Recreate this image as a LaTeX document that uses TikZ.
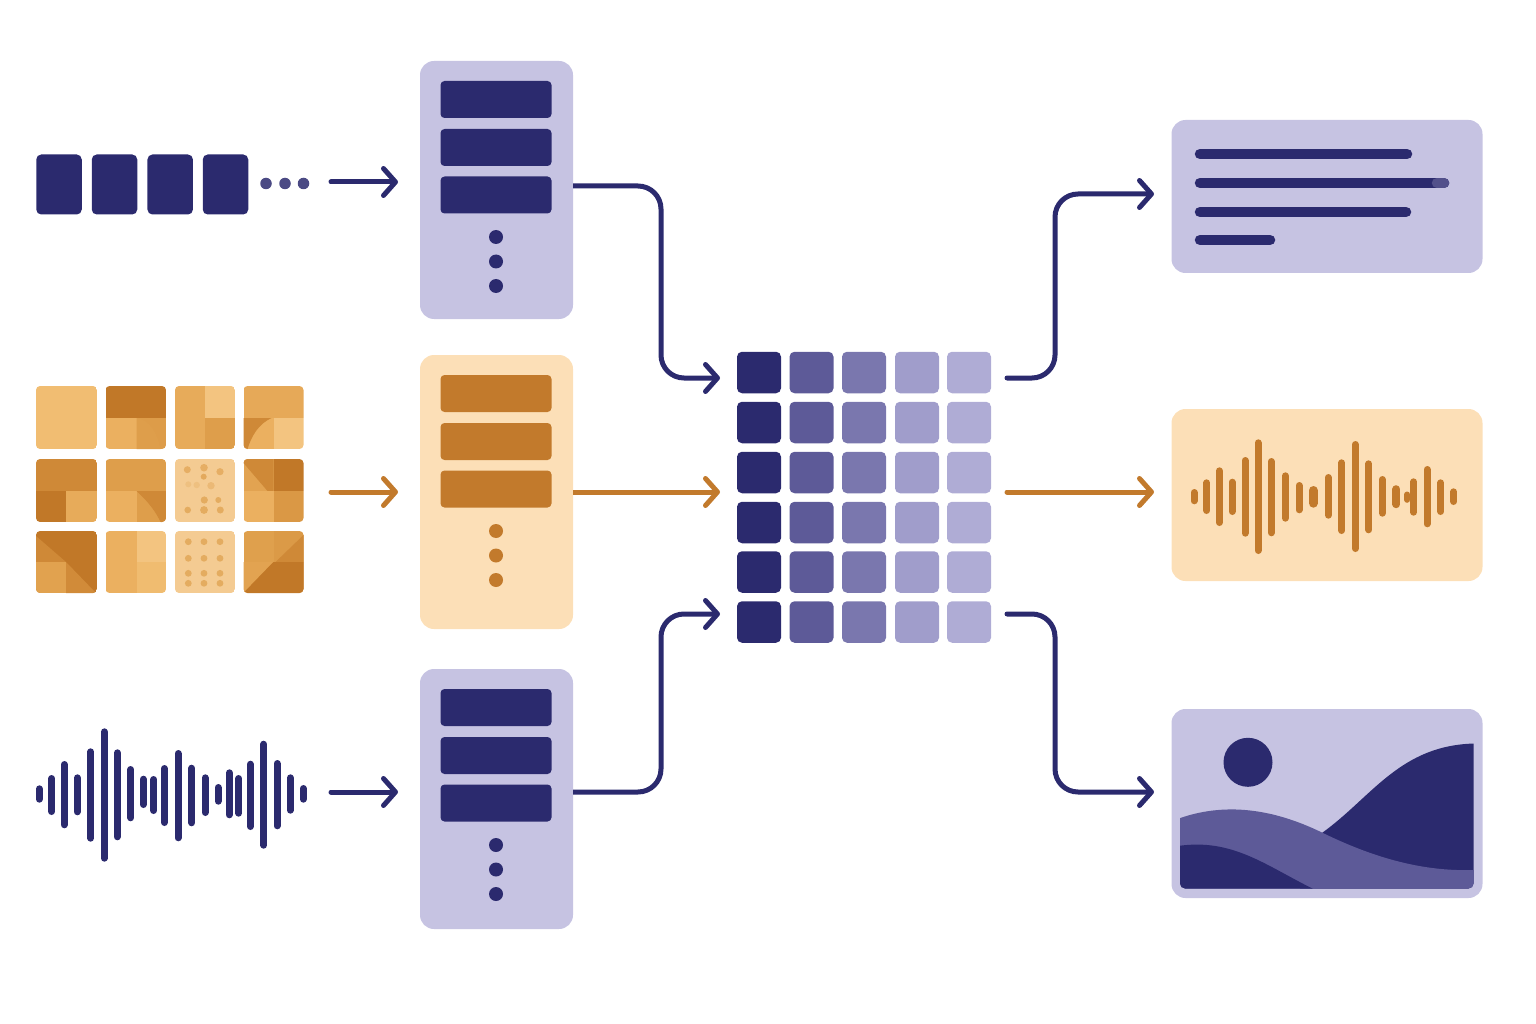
\documentclass[tikz,border=0pt]{standalone}
\usetikzlibrary{arrows.meta,calc}
\definecolor{navy}{HTML}{2B2A6E}
\definecolor{lilac}{HTML}{C6C3E2}
\definecolor{peach}{HTML}{FCDFB7}
\definecolor{amber}{HTML}{C27A2C}
\definecolor{hazeA}{HTML}{5D5A98}
\definecolor{hazeB}{HTML}{7A77AE}
\definecolor{hazeC}{HTML}{A09DCB}
\definecolor{hazeD}{HTML}{AFACD5}
\definecolor{tanA}{HTML}{F1BD72}
\definecolor{tanB}{HTML}{EBB060}
\definecolor{tanC}{HTML}{DE9E4B}
\definecolor{tanD}{HTML}{CF8937}
\definecolor{tanE}{HTML}{C17828}
\definecolor{tanF}{HTML}{F4CB92}
\tikzset{
	block/.style={rounded corners=#1, inner sep=0pt, outer sep=0pt, draw=none},
	block/.default=4pt,
	flow/.style={line width=5pt, draw=#1, line cap=round, rounded corners=23pt,
		-{Straight Barb[length=12pt,width=27pt,line width=5pt,round]}},
	flow/.default=navy,
	wave/.style={line width=7pt, line cap=round, draw=#1},
	textline/.style={line width=10.5pt, draw=navy, line cap=round},
	pip/.style={circle, inner sep=0pt, outer sep=0pt, minimum size=14pt, fill=#1}
}
\begin{document}
\begin{tikzpicture}[x=1pt,y=-1pt]
	\useasboundingbox (0,0) rectangle (1536,1024);
	% Eingabe: Tokenfolge
	\foreach \x/\n in {59/1,114.5/2,170.2/3,225.5/4}
		\node[block=5pt, fill=navy, minimum width=45.5pt, minimum height=60pt] (token\n) at (\x,184.5) {};
	\foreach \x/\n in {266/1,285/2,303.5/3}
		\node[pip=navy!85, minimum size=11.5pt] (more\n) at (\x,183.5) {};
	% Eingabe: Bildkacheln
	\begin{scope}[shift={(36,386)}]
		\clip[rounded corners=4pt] (0,0) rectangle (61,63);
		\fill[tanA] (0,0) rectangle (61,63);
	\end{scope}
	\begin{scope}[shift={(105.5,386)}]
		\clip[rounded corners=4pt] (0,0) rectangle (60.5,63);
		\fill[tanE] (0,0) rectangle (60.5,32);
		\fill[tanB] (0,32) rectangle (31,63);
		\fill[tanC!90!tanD] (31,32) rectangle (60.5,63);
		\fill[tanC] (31,32) .. controls (45,34) and (52,48) .. (55,63) -- (31,63) -- cycle;
	\end{scope}
	\begin{scope}[shift={(175,386)}]
		\clip[rounded corners=4pt] (0,0) rectangle (60,63);
		\fill[tanB!70!tanC] (0,0) rectangle (30,63);
		\fill[tanA!90!white] (30,0) rectangle (60,32);
		\fill[tanC] (30,32) rectangle (60,63);
	\end{scope}
	\begin{scope}[shift={(243.5,386)}]
		\clip[rounded corners=4pt] (0,0) rectangle (60,63);
		\fill[tanB!60!tanC] (0,0) rectangle (60,32);
		\fill[tanA!90!white] (30,32) rectangle (60,63);
		\fill[tanB] (0,32) rectangle (30,63);
		\fill[tanD] (0,32) -- (28,32) .. controls (15,38) and (8,50) .. (4,63) -- (0,63) -- cycle;
	\end{scope}
	\begin{scope}[shift={(36,459)}]
		\clip[rounded corners=4pt] (0,0) rectangle (61,63);
		\fill[tanD] (0,0) rectangle (61,32);
		\fill[tanE] (0,32) rectangle (30,63);
		\fill[tanB!70!tanC] (30,32) rectangle (61,63);
	\end{scope}
	\begin{scope}[shift={(105.5,459)}]
		\clip[rounded corners=4pt] (0,0) rectangle (60.5,63);
		\fill[tanC] (0,0) rectangle (60.5,32);
		\fill[tanB] (0,32) rectangle (31,63);
		\fill[tanC] (31,32) rectangle (60.5,63);
		\fill[tanD] (31,32) -- (60.5,32) -- (60.5,63) -- (55,63) .. controls (50,52) and (42,42) .. (31,32) -- cycle;
	\end{scope}
	\begin{scope}[shift={(175,459)}]
		\clip[rounded corners=4pt] (0,0) rectangle (60,63);
		\fill[tanF] (0,0) rectangle (60,63);
	\end{scope}
	\foreach \x/\y/\r/\c in {187.3/469.7/3.5/tanC!65!tanF,204/467.7/3.8/tanC!65!tanF,220/471.7/3.6/tanC!65!tanF,
		203.7/476.7/3/tanC!75!tanF,188.3/484.3/3/tanC!25!tanF,196.7/485/3.2/tanC!25!tanF,211/485.7/3.7/tanC!40!tanF,
		204.3/500/3.6/tanC!70!tanF,218.3/500/3/tanC!70!tanF,187.7/510/3.3/tanC!70!tanF,204/510/3.9/tanC!70!tanF,220.3/510/3.5/tanC!70!tanF}
		\fill[\c] (\x,\y) circle (\r);
	\begin{scope}[shift={(243.5,459)}]
		\clip[rounded corners=4pt] (0,0) rectangle (60,63);
		\fill[tanC!70!tanB] (0,0) rectangle (30,32);
		\fill[tanD] (0,0) -- (30,0) -- (30,32) -- (24,32) -- (0,4) -- cycle;
		\fill[tanE] (30,0) rectangle (60,32);
		\fill[tanB] (0,32) rectangle (30,63);
		\fill[tanC!70!tanD] (30,32) rectangle (60,63);
	\end{scope}
	\begin{scope}[shift={(36,531)}]
		\clip[rounded corners=4pt] (0,0) rectangle (61,62);
		\fill[tanE] (0,0) rectangle (61,62);
		\fill[tanD] (0,5) -- (0,31) -- (30,31) -- cycle;
		\fill[tanC!80!tanB] (0,31) rectangle (30,62);
		\fill[tanD!90!tanC] (30,31) -- (30,62) -- (60,62) -- cycle;
	\end{scope}
	\begin{scope}[shift={(105.5,531)}]
		\clip[rounded corners=4pt] (0,0) rectangle (60.5,62);
		\fill[tanB] (0,0) rectangle (31,62);
		\fill[tanA!90!white] (31,0) rectangle (60.5,31);
		\fill[tanA!90!tanB] (31,31) rectangle (60.5,62);
	\end{scope}
	\begin{scope}[shift={(175,531)}]
		\clip[rounded corners=4pt] (0,0) rectangle (60,62);
		\fill[tanF] (0,0) rectangle (60,62);
	\end{scope}
	\foreach \y in {541.7,558.3,573.3,583.3}
		\foreach \x in {188.3,204,220}
			\fill[tanC!70!tanF] (\x,\y) circle (3.4);
	\begin{scope}[shift={(243.5,531)}]
		\clip[rounded corners=4pt] (0,0) rectangle (60,62);
		\fill[tanC!90!tanB] (0,0) rectangle (30,62);
		\fill[tanC!80!tanD] (30,0) rectangle (60,62);
		\fill[tanC!70!tanB] (0,31) -- (30,31) -- (0,62) -- cycle;
		\fill[tanD] (0,62) -- (60,4) -- (60,31) -- (30,31) -- cycle;
		\fill[tanE] (0,62) -- (30,31) -- (60,31) -- (60,62) -- cycle;
	\end{scope}
	% Eingabe: Signal
	\foreach \x/\a/\b in {39.3/788.8/799.2,51.7/778.5/811.5,64.3/764.5/824.8,77.3/777.8/811.8,90.7/751.8/838.2,
		104.3/731.8/858.2,117.3/752.8/836.8,130.7/769.5/817.8,143.3/779.2/804.5,153.7/779.5/810.5,164.3/768.5/822.5,
		178/753.5/837.8,191.7/768.2/822.8,205/777.8/812.5,218/787.5/801.2,229.3/772.8/814.8,238.7/778.5/813.2,
		250.3/764.2/826.5,263.7/744.2/845.2,277/763.5/825.8,290.3/777.8/810.2,303.3/788.5/799.2}
		\draw[wave=navy] (\x,\a) -- (\x,\b);
	% Encoder
	\foreach \n/\top/\h/\bg/\ink in {A/61/258/lilac/navy,B/355/274/peach/amber,C/669/260/lilac/navy} {
		\node[block=14pt, anchor=north, fill=\bg, minimum width=153pt, minimum height=\h pt] (enc\n) at (496.5,\top) {};
		\foreach \o [count=\i] in {38.5,86.5,134}
			\node[block=4pt, fill=\ink, minimum width=111pt, minimum height=37pt] (bar\n\i) at (496,\top+\o) {};
		\foreach \o [count=\i] in {176,200.5,225}
			\node[pip=\ink] (dot\n\i) at (496,\top+\o) {};
	}
	% Matrix
	\foreach \r/\y in {1/372.5,2/422.5,3/472.5,4/522.5,5/572,6/622}
		\foreach \c/\x/\col in {1/759/navy,2/811.5/hazeA,3/864/hazeB,4/917/hazeC,5/969/hazeD}
			\node[block=5pt, fill=\col, minimum width=44pt, minimum height=41.5pt] (cell\r\c) at (\x,\y) {};
	% Ausgabe
	\node[block=14pt, fill=lilac, minimum width=311pt, minimum height=153pt] (outText) at (1327,196.5) {};
	\node[block=14pt, fill=peach, minimum width=311pt, minimum height=172pt] (outWave) at (1327,495) {};
	\node[block=14pt, fill=lilac, minimum width=311pt, minimum height=189pt] (outImage) at (1327,803.5) {};
	\draw[textline] (1200,154) -- (1407,154);
	\draw[textline] (1200,183) -- (1444,183);
	\draw[line width=10.5pt, draw=navy!75!lilac, line cap=round] (1437,183) -- (1444,183);
	\draw[textline] (1200,212) -- (1406,212);
	\draw[textline] (1200,240) -- (1270,240);
	\foreach \x/\a/\b/\w in {1194/492.5/500.8/7,1206.7/482.8/510.5/7,1219.3/470.8/522.5/7,1232/482.2/511.5/7,1245/460.5/533.2/7,
		1258/442.8/550.5/7,1271.3/461.5/532.8/7,1285.3/475.8/518.2/7,1299/485.5/509.8/7,1313.3/490.5/503.2/9,1328.3/477.5/515.2/7,
		1341.7/462.8/530.5/7,1355.3/444.5/548.5/7,1368.7/463.8/529.8/7,1382.3/479.5/513.2/7,1396.3/489.2/504.2/8,1407.3/494.5/499.8/6,
		1413.7/481.8/512.2/7,1427/469.5/523.8/7,1440.7/482.8/511.5/7,1453.7/491.8/501.5/7}
		\draw[wave=amber, line width=\w pt] (\x,\a) -- (\x,\b);
	% Landschaft
	\begin{scope}
		\clip[rounded corners=5pt] (1180,730) rectangle (1473.5,888.5);
		\fill[navy] (1300,850) -- (1322.3,832.7) .. controls (1372,797) and (1400,745) .. (1475,743.5)
			-- (1475,889) -- (1300,889) -- cycle;
		\fill[hazeA] (1178,818.8) .. controls (1230,800) and (1280,812) .. (1322.3,832.7)
			.. controls (1370,856) and (1420,872) .. (1475,870)
			-- (1475,889) -- (1178,889) -- cycle;
		\fill[navy] (1178,846) .. controls (1232,838) and (1265,865) .. (1313.3,889)
			-- (1178,889) -- cycle;
	\end{scope}
	\fill[navy] (1248,762.3) circle (24.5);
	% Verbindungen
	\coordinate (seqStart) at (331,182);
	\coordinate (seqEnd) at (398,182);
	\coordinate (tileStart) at (331,492);
	\coordinate (tileEnd) at (398,492);
	\coordinate (sigStart) at (331,792);
	\coordinate (sigEnd) at (398,792);
	\coordinate (inTop) at (720,378);
	\coordinate (inMid) at (720,492);
	\coordinate (inLow) at (720,614);
	\coordinate (outTop) at (1007,378);
	\coordinate (outMid) at (1007,492);
	\coordinate (outLow) at (1007,614);
	\coordinate (toText) at (1154,194);
	\coordinate (toWave) at (1154,492);
	\coordinate (toImage) at (1154,792);
	\coordinate (busIn) at (661,0);
	\coordinate (busOut) at (1055,0);
	\draw[flow] (seqStart) -- (seqEnd);
	\draw[flow=amber] (tileStart) -- (tileEnd);
	\draw[flow] (sigStart) -- (sigEnd);
	\draw[flow, line cap=butt] ([yshift=4pt]encA.east) -- ([yshift=4pt]encA.east -| busIn) -- (busIn |- inTop) -- (inTop);
	\draw[flow=amber, line cap=butt] (encB.east |- inMid) -- (inMid);
	\draw[flow, line cap=butt] ([yshift=7pt]encC.east) -- ([yshift=7pt]encC.east -| busIn) -- (busIn |- inLow) -- (inLow);
	\draw[flow] (outTop) -- (outTop -| busOut) -- (busOut |- toText) -- (toText);
	\draw[flow=amber] (outMid) -- (toWave);
	\draw[flow] (outLow) -- (outLow -| busOut) -- (busOut |- toImage) -- (toImage);
\end{tikzpicture}
\end{document}
